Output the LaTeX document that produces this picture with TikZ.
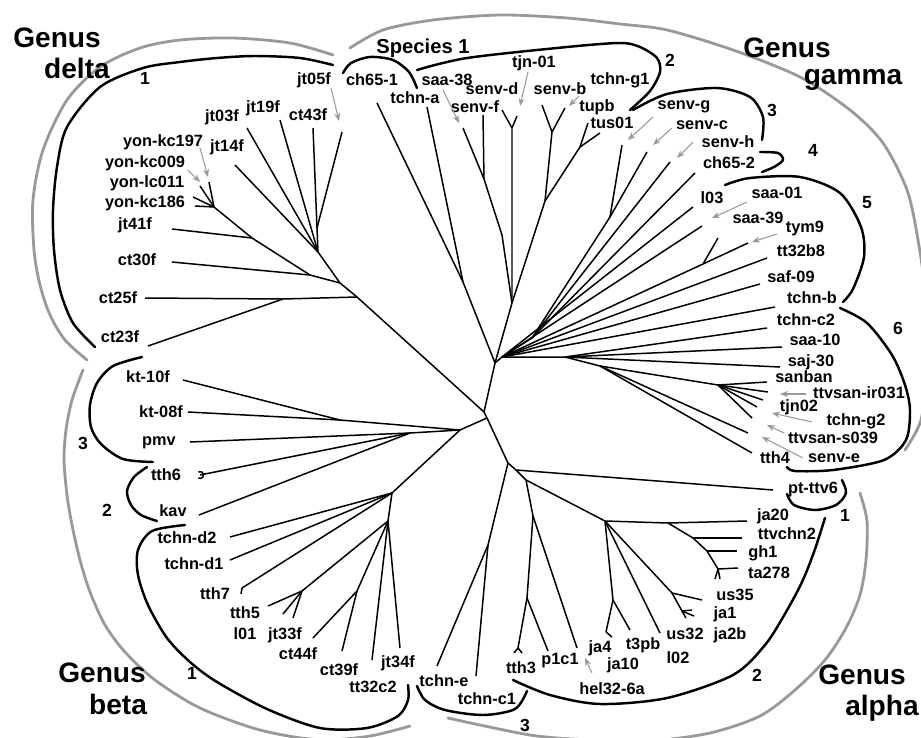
\documentclass[tikz,border=0pt]{standalone}
\usepackage{fontspec}
\setmainfont{Liberation Sans}
\usetikzlibrary{arrows.meta}

\tikzset{
  br/.style={line width=0.85pt},
  lab/.style={font=\fontsize{9.3}{10}\selectfont\bfseries, inner sep=0pt},
  num/.style={font=\fontsize{10}{11}\selectfont\bfseries, inner sep=0pt},
  genus/.style={font=\fontsize{16}{17}\selectfont\bfseries, inner sep=0pt},
  clade/.style={line width=1.4pt, line cap=round},
  grp/.style={line width=1.6pt, color=black!40, line cap=round},
  ptr/.style={black!40, line width=0.6pt, -{Stealth[length=4.5pt,width=3.5pt]}},
}

\begin{document}
\begin{tikzpicture}[x=0.02cm,y=-0.02cm]
\useasboundingbox (0,0) rectangle (921,738);

% inner nodes
\coordinate (R) at (484,412);
\coordinate (R2) at (487,418);
\coordinate (G1) at (495,363);
\coordinate (d2) at (357,297);
\coordinate (d1) at (340,283);
\coordinate (F1) at (318,252);
\coordinate (n05) at (317,228);
\coordinate (Y) at (214,207);
\coordinate (y2) at (252,238);
\coordinate (y3) at (310,275);
\coordinate (c25) at (283,299);
\coordinate (s1) at (463,282);
\coordinate (s2) at (502,235);
\coordinate (s3) at (512,303);
\coordinate (sf) at (484,179);
\coordinate (sd) at (512,128);
\coordinate (sb) at (545,201);
\coordinate (sbn) at (552,132);
\coordinate (tn) at (580,147);
\coordinate (g2) at (502,357);
\coordinate (gu) at (532,338);
\coordinate (gc) at (610,217);
\coordinate (ty) at (703,264);
\coordinate (gl) at (565,357);
\coordinate (gm) at (600,366);
\coordinate (gk) at (718,385);
\coordinate (A) at (508,463);
\coordinate (a1) at (516,470);
\coordinate (a2) at (526,480);
\coordinate (a3) at (533,516);
\coordinate (th) at (527,598);
\coordinate (e1) at (488,545);
\coordinate (a4) at (605,521);
\coordinate (a5) at (668,523);
\coordinate (a6) at (693,538);
\coordinate (a7) at (707,551);
\coordinate (a8) at (718,569);
\coordinate (u1) at (672,593);
\coordinate (u2) at (682,611);
\coordinate (a9) at (613,600);
\coordinate (b0) at (460,430);
\coordinate (b1) at (410,433);
\coordinate (b2) at (340,420);
\coordinate (b3) at (392,493);
\coordinate (b6) at (388,521);
\coordinate (b7) at (357,591);
\coordinate (b8) at (302,591);

% tips
\coordinate (tjt05) at (342,132);
\coordinate (tjt03) at (247,128);
\coordinate (tjt19) at (280,120);
\coordinate (tct43) at (313,128);
\coordinate (tjt14) at (235,165);
\coordinate (tyk197) at (209,182);
\coordinate (tyk009) at (200,186);
\coordinate (tyl011) at (193,197);
\coordinate (tyk186) at (195,206);
\coordinate (tjt41) at (172,229);
\coordinate (tct30) at (172,262);
\coordinate (tct25) at (145,298);
\coordinate (tct23) at (148,346);
\coordinate (tch651) at (377,103);
\coordinate (ttchna) at (427,107);
\coordinate (tsaa38) at (463,128);
\coordinate (tsenvf) at (483,115);
\coordinate (tsenvd) at (502,110);
\coordinate (ttjn01) at (517,116);
\coordinate (tsenvb) at (542,105);
\coordinate (ttupb) at (565,108);
\coordinate (ttus01) at (588,123);
\coordinate (ttus01b) at (600,133);
\coordinate (tsenvg) at (622,145);
\coordinate (tsenvc) at (647,152);
\coordinate (tsenvh) at (670,162);
\coordinate (tch652) at (695,173);
\coordinate (tl03) at (693,207);
\coordinate (tsaa01) at (702,226);
\coordinate (tsaa39) at (748,243);
\coordinate (ttym9) at (718,238);
\coordinate (ttt32) at (767,258);
\coordinate (tsaf09) at (760,284);
\coordinate (ttchnb) at (775,307);
\coordinate (ttchnc2) at (767,328);
\coordinate (tsaa10) at (782,347);
\coordinate (tsaj30) at (780,367);
\coordinate (tsanban) at (767,382);
\coordinate (tk1) at (768,392);
\coordinate (tk2) at (763,400);
\coordinate (tk3) at (757,407);
\coordinate (tk4) at (752,418);
\coordinate (tts039) at (748,433);
\coordinate (ttth4) at (752,453);
\coordinate (tpt) at (773,490);
\coordinate (tja20) at (747,521);
\coordinate (tttvchn2) at (742,538);
\coordinate (tgh1) at (737,551);
\coordinate (tta278) at (738,568);
\coordinate (tus35) at (702,600);
\coordinate (tja1) at (692,610);
\coordinate (tja2b) at (694,616);
\coordinate (tus32) at (686,618);
\coordinate (tt3pb) at (660,633);
\coordinate (tja10) at (630,630);
\coordinate (tja4) at (606,632);
\coordinate (thel) at (577,648);
\coordinate (tp1c1) at (548,651);
\coordinate (ttth3) at (518,648);
\coordinate (ttchnc1) at (476,676);
\coordinate (ttchne) at (437,666);
\coordinate (tjt34) at (400,648);
\coordinate (ttt32c2) at (372,660);
\coordinate (tct39) at (342,651);
\coordinate (tct44) at (313,638);
\coordinate (tjt33) at (293,618);
\coordinate (tl01) at (283,614);
\coordinate (ttth5) at (268,606);
\coordinate (ttth7) at (242,588);
\coordinate (ttchnd1) at (230,560);
\coordinate (ttchnd2) at (230,537);
\coordinate (tkav) at (199,515);
\coordinate (ttth6) at (200,475);
\coordinate (tpmv) at (190,442);
\coordinate (tkt08) at (188,412);
\coordinate (tkt10) at (183,380);

% branches
\draw[br] (R) -- (d2) -- (d1) -- (F1) -- (n05) -- (tct43);
\draw[br] (n05) -- (tjt05);
\draw[br] (F1) -- (tjt03);
\draw[br] (F1) -- (tjt19);
\draw[br] (F1) -- (tjt14);
\draw[br] (d1) -- (y3) -- (y2) -- (Y) -- (tyk197);
\draw[br] (Y) -- (tyk009);
\draw[br] (Y) -- (tyl011);
\draw[br] (Y) -- (tyk186);
\draw[br] (y2) -- (tjt41);
\draw[br] (y3) -- (tct30);
\draw[br] (d2) -- (c25) -- (tct25);
\draw[br] (c25) -- (tct23);

\draw[br] (R) -- (G1) -- (s1) -- (tch651);
\draw[br] (s1) -- (ttchna);
\draw[br] (G1) -- (s3) -- (s2) -- (sf) -- (tsaa38);
\draw[br] (sf) -- (tsenvf);
\draw[br] (s3) -- (sd) -- (tsenvd);
\draw[br] (sd) -- (ttjn01);
\draw[br] (s3) -- (sb) -- (sbn) -- (tsenvb);
\draw[br] (sbn) -- (ttupb);
\draw[br] (sb) -- (tn) -- (ttus01);
\draw[br] (tn) -- (ttus01b);

\draw[br] (G1) -- (g2) -- (gu) -- (gc) -- (tsenvg);
\draw[br] (gc) -- (tsenvc);
\draw[br] (gu) -- (tsenvh);
\draw[br] (gu) -- (tch652);
\draw[br] (g2) -- (tl03);
\draw[br] (g2) -- (tsaa01);
\draw[br] (g2) -- (ty) -- (tsaa39);
\draw[br] (ty) -- (ttym9);
\draw[br] (g2) -- (ttt32);
\draw[br] (g2) -- (tsaf09);
\draw[br] (g2) -- (ttchnb);
\draw[br] (g2) -- (gl) -- (ttchnc2);
\draw[br] (gl) -- (tsaa10);
\draw[br] (gl) -- (tsaj30);
\draw[br] (gl) -- (gm) -- (gk) -- (tsanban);
\draw[br] (gk) -- (tk1);
\draw[br] (gk) -- (tk2);
\draw[br] (gk) -- (tk3);
\draw[br] (gk) -- (tk4);
\draw[br] (gm) -- (tts039);
\draw[br] (gm) -- (ttth4);

\draw[br] (R) -- (R2) -- (A) -- (a1) -- (tpt);
\draw[br] (a1) -- (a2) -- (a3) -- (th) -- (ttth3);
\draw[br] (th) -- (tp1c1);
\draw[br] (a3) -- (thel);
\draw[br] (A) -- (e1) -- (ttchne);
\draw[br] (e1) -- (ttchnc1);
\draw[br] (a2) -- (a4) -- (a5) -- (tja20);
\draw[br] (a5) -- (a6) -- (a7) -- (a8) -- (tta278);
\draw[br] (a6) -- (tttvchn2);
\draw[br] (a7) -- (tgh1);
\draw[br] (a8) -- +(-3,10);
\draw[br] (a8) -- +(2,10);
\draw[br] (a4) -- (u1) -- (tus35);
\draw[br] (u1) -- (u2) -- (tja1);
\draw[br] (u2) -- (tja2b);
\draw[br] (u2) -- (tus32);
\draw[br] (a4) -- (a9) -- (tja4);
\draw[br] (tja4) -- +(6,5);
\draw[br] (a9) -- (tja10);
\draw[br] (a4) -- (tt3pb);
\draw[br] (ttth3) -- +(-4,5);
\draw[br] (ttth3) -- +(4,5);

\draw[br] (R2) -- (b0) -- (b2) -- (tkt10);
\draw[br] (b2) -- (tkt08);
\draw[br] (b0) -- (b1) -- (tpmv);
\draw[br] (b1) -- (ttth6);
\draw[br] (b1) -- (tkav);
\draw[br] (ttth6) ++(120:3.5) arc[start angle=120, end angle=-120, radius=3.5];
\draw[br] (b0) -- (b3) -- (ttchnd2);
\draw[br] (b3) -- (ttchnd1);
\draw[br] (b3) -- (ttth7);
\draw[br] (ttth7) -- +(-1,6);
\draw[br] (b3) -- (b6) -- (tjt34);
\draw[br] (b6) -- (ttt32c2);
\draw[br] (b6) -- (b7) -- (tct39);
\draw[br] (b7) -- (tct44);
\draw[br] (b6) -- (b8) -- (ttth5);
\draw[br] (b8) -- (tl01);
\draw[br] (b8) -- (tjt33);

% labels
\node[lab] (l-jt05f) at (314,80) {jt05f};
\node[lab] (l-jt03f) at (222,117) {jt03f};
\node[lab] (l-jt19f) at (263,108) {jt19f};
\node[lab] (l-ct43f) at (308,115) {ct43f};
\node[lab] (l-jt14f) at (227,147) {jt14f};
\node[lab] (l-yk197) at (163,142) {yon-kc197};
\node[lab] (l-yk009) at (145,163) {yon-kc009};
\node[lab] (l-yl011) at (147,183) {yon-lc011};
\node[lab] (l-yk186) at (145,203) {yon-kc186};
\node[lab] (l-jt41f) at (135,225) {jt41f};
\node[lab] (l-ct30f) at (137,260) {ct30f};
\node[lab] (l-ct25f) at (118,298) {ct25f};
\node[lab] (l-ct23f) at (120,337) {ct23f};
\node[lab] (l-kt10f) at (148,377) {kt-10f};
\node[lab] (l-kt08f) at (161,412) {kt-08f};
\node[lab] (l-pmv) at (159,443) {pmv};
\node[lab] (l-tth6) at (166,475) {tth6};
\node[lab] (l-kav) at (173,511) {kav};
\node[lab] (l-tchnd2) at (187,538) {tchn-d2};
\node[lab] (l-tchnd1) at (194,564) {tchn-d1};
\node[lab] (l-tth7) at (215,594) {tth7};
\node[lab] (l-tth5) at (245,613) {tth5};
\node[lab] (l-l01) at (245,634) {l01};
\node[lab] (l-jt33f) at (285,635) {jt33f};
\node[lab] (l-ct44f) at (298,654) {ct44f};
\node[lab] (l-ct39f) at (339,670) {ct39f};
\node[lab] (l-tt32c2) at (373,687) {tt32c2};
\node[lab] (l-jt34f) at (398,663) {jt34f};
\node[lab] (l-tchne) at (444,681) {tchn-e};
\node[lab] (l-tchnc1) at (487,699) {tchn-c1};
\node[lab] (l-tth3) at (521,668) {tth3};
\node[lab] (l-p1c1) at (560,661) {p1c1};
\node[lab] (l-ja4) at (600,648) {ja4};
\node[lab] (l-hel) at (612,689) {hel32-6a};
\node[lab] (l-ja10) at (623,665) {ja10};
\node[lab] (l-t3pb) at (643,645) {t3pb};
\node[lab] (l-l02) at (678,658) {l02};
\node[lab] (l-us32) at (685,634) {us32};
\node[lab] (l-ja2b) at (730,635) {ja2b};
\node[lab] (l-ja1) at (725,614) {ja1};
\node[lab] (l-us35) at (735,595) {us35};
\node[lab] (l-ta278) at (769,573) {ta278};
\node[lab] (l-gh1) at (763,553) {gh1};
\node[lab] (l-ttvchn2) at (787,534) {ttvchn2};
\node[lab] (l-ja20) at (773,516) {ja20};
\node[lab] (l-ptttv6) at (813,489) {pt-ttv6};
\node[lab] (l-tth4) at (775,458) {tth4};
\node[lab] (l-senve) at (834,458) {senv-e};
\node[lab] (l-s039) at (833,438) {ttvsan-s039};
\node[lab] (l-tchng2) at (856,421) {tchn-g2};
\node[lab] (l-tjn02) at (799,407) {tjn02};
\node[lab] (l-ir031) at (859,393) {ttvsan-ir031};
\node[lab] (l-sanban) at (804,377) {sanban};
\node[lab] (l-saj30) at (811,362) {saj-30};
\node[lab] (l-saa10) at (815,340) {saa-10};
\node[lab] (l-tchnc2) at (806,320) {tchn-c2};
\node[lab] (l-tchnb) at (812,298) {tchn-b};
\node[lab] (l-saf09) at (791,277) {saf-09};
\node[lab] (l-tt32b8) at (801,251) {tt32b8};
\node[lab] (l-tym9) at (805,228) {tym9};
\node[lab] (l-saa39) at (758,218) {saa-39};
\node[lab] (l-saa01) at (777,193) {saa-01};
\node[lab] (l-l03) at (712,198) {l03};
\node[lab] (l-ch652) at (729,163) {ch65-2};
\node[lab] (l-senvh) at (728,142) {senv-h};
\node[lab] (l-senvc) at (702,125) {senv-c};
\node[lab] (l-senvg) at (684,107) {senv-g};
\node[lab] (l-tus01) at (612,123) {tus01};
\node[lab] (l-tupb) at (597,107) {tupb};
\node[lab] (l-tchng1) at (620,80) {tchn-g1};
\node[lab] (l-senvb) at (560,89) {senv-b};
\node[lab] (l-tjn01) at (534,63) {tjn-01};
\node[lab] (l-senvd) at (492,89) {senv-d};
\node[lab] (l-senvf) at (475,107) {senv-f};
\node[lab] (l-saa38) at (447,80) {saa-38};
\node[lab] (l-tchna) at (415,98) {tchn-a};
\node[lab] (l-ch651) at (372,80) {ch65-1};

% pointers
\coordinate (a-yk197) at (200,148); \coordinate (h-yk197) at (208,177);
\coordinate (a-yk009) at (188,170); \coordinate (h-yk009) at (200,182);
\coordinate (a-jt05) at (331,88);   \coordinate (h-jt05) at (339,121);
\coordinate (a-saa38) at (443,90);  \coordinate (h-saa38) at (459,123);
\coordinate (a-tjn01) at (528,72);  \coordinate (h-tjn01) at (520,106);
\coordinate (a-senvb) at (579,96);  \coordinate (h-senvb) at (569,106);
\coordinate (a-senvg) at (653,117); \coordinate (h-senvg) at (628,140);
\coordinate (a-senvc) at (672,128); \coordinate (h-senvc) at (653,145);
\coordinate (a-senvh) at (693,142); \coordinate (h-senvh) at (677,158);
\coordinate (a-saa01) at (747,202); \coordinate (h-saa01) at (712,218);
\coordinate (a-saa39) at (777,234); \coordinate (h-saa39) at (752,242);
\coordinate (a-ir031) at (806,394); \coordinate (h-ir031) at (780,394);
\coordinate (a-tchng2) at (812,422); \coordinate (h-tchng2) at (772,413);
\coordinate (a-s039) at (784,433);  \coordinate (h-s039) at (767,425);
\coordinate (a-senve) at (803,458); \coordinate (h-senve) at (762,437);
\coordinate (a-hel) at (592,673);   \coordinate (h-hel) at (585,658);
\draw[ptr] (a-yk197) -- (h-yk197);
\draw[ptr] (a-yk009) -- (h-yk009);
\draw[ptr] (a-jt05) -- (h-jt05);
\draw[ptr] (a-saa38) -- (h-saa38);
\draw[ptr] (a-tjn01) -- (h-tjn01);
\draw[ptr] (a-senvb) -- (h-senvb);
\draw[ptr] (a-senvg) -- (h-senvg);
\draw[ptr] (a-senvc) -- (h-senvc);
\draw[ptr] (a-senvh) -- (h-senvh);
\draw[ptr] (a-saa01) -- (h-saa01);
\draw[ptr] (a-saa39) -- (h-saa39);
\draw[ptr] (a-ir031) -- (h-ir031);
\draw[ptr] (a-tchng2) -- (h-tchng2);
\draw[ptr] (a-s039) -- (h-s039);
\draw[ptr] (a-senve) -- (h-senve);
\draw[ptr] (a-hel) -- (h-hel);

% genus brackets
\draw[grp] plot[smooth] coordinates {(333,55) (290,43) (233,38) (180,40) (140,48) (100,67) (67,100) (43,150) (33,200) (34,250) (40,285) (50,315) (65,340) (87,360)};
\draw[grp] plot[smooth] coordinates {(350,48) (383,30) (433,20) (500,15) (567,18) (620,24) (667,30) (733,50) (800,77) (850,110) (883,143) (907,190) (918,240) (926,300) (926,370) (921,420) (905,450)};
\draw[grp] plot[smooth] coordinates {(860,493) (867,521) (866,560) (860,595) (846,628) (825,660) (795,690) (760,716) (710,733) (650,741) (590,740) (530,735) (448,718)};
\draw[grp] plot[smooth] coordinates {(83,370) (72,400) (66,430) (64,460) (67,495) (72,525) (80,560) (90,592) (105,625) (125,652) (155,680) (200,708) (260,730) (320,740) (370,736) (410,726)};

% clade brackets
\draw[clade] plot[smooth] coordinates {(333,65) (300,58) (255,56) (217,58) (180,62) (143,68) (100,87) (67,127) (57,167) (53,210) (54,250) (60,290) (73,323) (95,347)};
\draw[clade] plot[smooth] coordinates {(142,357) (113,366) (97,383) (90,405) (91,427) (101,444) (123,459) (153,462)};
\draw[clade] plot[smooth] coordinates {(147,467) (134,477) (127,491) (131,505) (141,515) (157,521)};
\draw[clade] plot[smooth] coordinates {(185,525) (152,531) (138,550) (138,575) (148,605) (167,638) (190,662) (217,682) (267,709) (320,728) (367,728) (398,716) (408,700) (408,685)};
\draw[clade] plot[smooth] coordinates {(417,686) (425,700) (445,710) (483,715) (515,709) (527,691)};
\draw[clade] plot[smooth] coordinates {(513,680) (550,695) (600,704) (667,698) (733,675) (765,645) (786,612) (802,582) (814,552) (825,518)};
\draw[clade] plot[smooth] coordinates {(842,480) (846,493) (836,505) (815,510) (794,505) (787,494)};
\draw[clade] plot[smooth] coordinates {(840,308) (867,323) (892,355) (905,385) (910,410) (906,440) (884,460) (833,470) (795,471) (787,467)};
\draw[clade] plot[smooth] coordinates {(725,185) (750,178) (800,177) (840,193) (861,227) (864,257) (853,289) (843,302)};
\draw[clade] plot[smooth] coordinates {(760,152) (778,153) (783,160) (774,167) (762,172)};
\draw[clade] plot[smooth] coordinates {(633,110) (667,94) (717,88) (750,97) (763,117) (762,140)};
\draw[clade] plot[smooth] coordinates {(417,70) (467,58) (567,47) (620,43) (640,47) (657,58) (660,72) (650,91) (630,110)};
\draw[clade] plot[smooth] coordinates {(343,73) (351,63) (370,57) (393,60) (409,72) (417,88)};

% group names
\node[genus] (g-delta1) at (57,38) {Genus};
\node[genus] (g-delta2) at (77,68) {delta};
\node[genus] (g-gamma1) at (787,48) {Genus};
\node[genus] (g-gamma2) at (853,80) {gamma};
\node[genus] (g-beta1) at (102,673) {Genus};
\node[genus] (g-beta2) at (118,704) {beta};
\node[genus] (g-alpha1) at (862,675) {Genus};
\node[genus] (g-alpha2) at (882,708) {alpha};
\node[font=\fontsize{11.5}{12}\selectfont\bfseries, inner sep=0pt] (sp1) at (423,48) {Species 1};
\node[num] (n-d1) at (145,78) {1};
\node[num] (n-b3) at (83,443) {3};
\node[num] (n-b2) at (107,510) {2};
\node[num] (n-b1) at (192,673) {1};
\node[num] (n-a3) at (525,725) {3};
\node[num] (n-a2) at (757,675) {2};
\node[num] (n-a1) at (845,515) {1};
\node[num] (n-g6) at (898,328) {6};
\node[num] (n-g5) at (867,203) {5};
\node[num] (n-g4) at (813,150) {4};
\node[num] (n-g3) at (772,110) {3};
\node[num] (n-g2) at (670,60) {2};
\end{tikzpicture}
\end{document}
